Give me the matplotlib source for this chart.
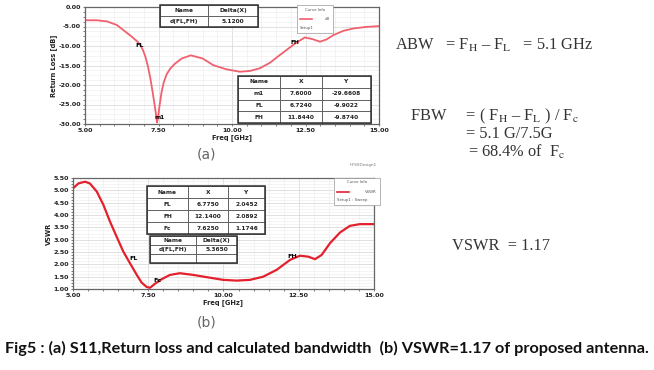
import matplotlib
matplotlib.use("Agg")
import matplotlib.pyplot as plt
from matplotlib.patches import Rectangle
from matplotlib.lines import Line2D
from matplotlib.ticker import MultipleLocator, AutoMinorLocator, FormatStrFormatter

plt.rcParams['font.family'] = ['DejaVu Sans']
plt.rcParams['mathtext.fontset'] = 'stix'

# (a) S11 return loss
s11_freq = [5.00, 5.40, 5.75, 6.08, 6.30, 6.59, 6.80, 6.90, 6.98, 7.06, 7.14,
            7.22, 7.30, 7.37, 7.42, 7.45, 7.48, 7.53, 7.60, 7.68, 7.78, 7.90,
            8.05, 8.29, 8.60, 9.00, 9.36, 9.82, 10.27, 10.61,
            10.95, 11.29, 11.63, 12.14, 12.48, 12.77, 12.99, 13.22, 13.45, 13.79,
            14.13, 14.58, 15.00]
s11_db = [-3.4, -3.4, -3.7, -4.6, -5.9, -7.6, -9.0, -10.0, -11.2, -12.9, -15.2,
          -18.2, -21.8, -25.2, -27.8, -29.66, -28.6, -25.6, -22.0, -19.3, -17.2, -15.8,
          -14.6, -13.2, -12.4, -13.2, -14.9, -16.0, -16.6, -16.4,
          -15.7, -14.3, -12.3, -9.4, -7.8, -8.3, -8.9, -8.3, -7.2, -6.1,
          -5.5, -5.1, -4.9]

# (b) VSWR
vswr_freq = [5.00, 5.18, 5.40, 5.56, 5.79, 6.01, 6.23, 6.45, 6.67, 6.89, 7.12,
             7.28, 7.45, 7.56, 7.72, 7.95, 8.22, 8.55, 9.00, 9.44, 9.99, 10.44,
             10.88, 11.32, 11.77, 12.21, 12.54, 12.82, 13.04, 13.26, 13.54, 13.87,
             14.20, 14.53, 15.00]
vswr_val = [5.08, 5.28, 5.35, 5.28, 4.95, 4.41, 3.73, 3.12, 2.52, 2.05, 1.57,
            1.26, 1.08, 1.05, 1.21, 1.40, 1.57, 1.64, 1.57, 1.48, 1.37, 1.34,
            1.37, 1.50, 1.78, 2.18, 2.35, 2.31, 2.21, 2.38, 2.86, 3.29,
            3.56, 3.63, 3.63]

# marker tables
s11_delta = [["Name", "Delta(X)"], ["d(FL,FH)", "5.1200"]]
s11_markers = [["Name", "X", "Y"],
               ["m1", "7.6000", "-29.6608"],
               ["FL", "6.7240", "-9.9022"],
               ["FH", "11.8440", "-9.8740"]]
vswr_markers = [["Name", "X", "Y"],
                ["FL", "6.7750", "2.0452"],
                ["FH", "12.1400", "2.0892"],
                ["Fc", "7.6250", "1.1746"]]
vswr_delta = [["Name", "Delta(X)"], ["d(FL,FH)", "5.3650"], ["", ""]]

x_ticks = [5.0, 7.5, 10.0, 12.5, 15.0]

W, H = 654, 370
fig = plt.figure(figsize=(W / 100, H / 100), dpi=100)


def fx(x):
    return x / W


def fy(y):
    return 1 - y / H


def add_axes(l, t, r, b):
    return fig.add_axes([l / W, 1 - b / H, (r - l) / W, (b - t) / H])


def style(ax, ylabel):
    ax.set_xlim(5, 15)
    ax.set_xticks(x_ticks)
    ax.xaxis.set_minor_locator(AutoMinorLocator(5))
    ax.yaxis.set_minor_locator(AutoMinorLocator(4))
    ax.xaxis.set_major_formatter(FormatStrFormatter('%.2f'))
    ax.yaxis.set_major_formatter(FormatStrFormatter('%.2f'))
    ax.grid(True, which='major', color='#d4d4d4', lw=0.5)
    ax.grid(True, which='minor', color='#ececec', lw=0.4)
    ax.set_axisbelow(True)
    for s in ax.spines.values():
        s.set_color('#666666')
        s.set_linewidth(0.9)
    ax.tick_params(which='both', length=1.5, width=0.5, colors='#444444',
                   labelsize=4.6, pad=1.5)
    for lab in ax.get_xticklabels() + ax.get_yticklabels():
        lab.set_fontweight('bold')
        lab.set_color('#222222')
    ax.set_xlabel("Freq [GHz]", fontsize=4.8, fontweight='bold', labelpad=1, color='#222222')
    ax.set_ylabel(ylabel, fontsize=4.8, fontweight='bold', labelpad=1, color='#222222')


def draw_table(col_edges, y0, row_h, rows):
    for r, row in enumerate(rows):
        for c, cell in enumerate(row):
            x = col_edges[c]
            w = col_edges[c + 1] - col_edges[c]
            fig.add_artist(Rectangle((fx(x), fy(y0 + (r + 1) * row_h)), w / W, row_h / H,
                                     transform=fig.transFigure, facecolor='white',
                                     edgecolor='#555555', lw=0.6))
            fig.text(fx(x + w / 2), fy(y0 + r * row_h + row_h / 2), cell,
                     ha='center', va='center', fontsize=4.2, fontweight='bold', color='#222222')
    fig.add_artist(Rectangle((fx(col_edges[0]), fy(y0 + len(rows) * row_h)),
                             (col_edges[-1] - col_edges[0]) / W, len(rows) * row_h / H,
                             transform=fig.transFigure, fill=False,
                             edgecolor='#333333', lw=1.1))


def draw_legend(l, t, r, b, color, name, setup):
    fig.add_artist(Rectangle((fx(l), fy(b)), (r - l) / W, (b - t) / H,
                             transform=fig.transFigure, facecolor='white',
                             edgecolor='#999999', lw=0.5))
    h = (b - t) / 3
    fig.text(fx((l + r) / 2), fy(t + h * 0.5), "Curve Info", ha='center', va='center',
             fontsize=2.8, color='#555555')
    fig.add_artist(Line2D([fx(l + 3), fx(l + 15)], [fy(t + h * 1.5)] * 2,
                          transform=fig.transFigure, color=color, lw=1.2))
    fig.text(fx(r - 3), fy(t + h * 1.5), name, ha='right', va='center',
             fontsize=2.8, color='#555555')
    fig.text(fx(l + 3), fy(t + h * 2.5), setup, ha='left', va='center',
             fontsize=2.8, color='#555555')


# ---- (a) S11 ----
ax1 = add_axes(85, 7, 379, 124)
ax1.plot(s11_freq, s11_db, color='#f0606e', lw=1.3)
ax1.set_ylim(-30, 0)
ax1.yaxis.set_major_locator(MultipleLocator(5))
style(ax1, "Return Loss [dB]")
ax1.text(6.85, -9.9, "FL", fontsize=4.6, fontweight='bold', ha='center', va='center')
ax1.text(7.55, -28.4, "m1", fontsize=4.2, fontweight='bold', ha='center', va='center')
ax1.text(12.14, -9.0, "FH", fontsize=4.2, fontweight='bold', ha='center', va='center')

draw_table([160, 208, 258], 5, 11, s11_delta)
draw_table([238, 280, 322, 371], 76, 11.75, s11_markers)
draw_legend(297, 5, 333, 33, '#f0606e', "dB", "Setup1")

# ---- (b) VSWR ----
ax2 = add_axes(73, 178, 374, 289)
ax2.plot(vswr_freq, vswr_val, color='#e3202c', lw=1.6)
ax2.set_ylim(1.0, 5.5)
ax2.yaxis.set_major_locator(MultipleLocator(0.5))
style(ax2, "VSWR")
ax2.text(7.0, 2.22, "FL", fontsize=4.6, fontweight='bold', ha='center', va='center')
ax2.text(7.82, 1.33, "Fc", fontsize=4.6, fontweight='bold', ha='center', va='center')
ax2.text(12.3, 2.30, "FH", fontsize=4.6, fontweight='bold', ha='center', va='center')

draw_table([147, 188, 228, 265], 186, 12, vswr_markers)
draw_table([150, 196, 237], 236, 9, vswr_delta)
draw_legend(334, 178, 380, 205, '#e3202c', "VSWR", "Setup1 : Sweep")
fig.text(fx(363), fy(165), "HFSSDesign1", ha='center', va='center', fontsize=3,
         color='#777777')

# panel labels
fig.text(fx(207), fy(154), "(a)", ha='center', va='center', fontsize=10, color='#666666')
fig.text(fx(207), fy(323), "(b)", ha='center', va='center', fontsize=10, color='#666666')

# equations on the right
eq = dict(family='Liberation Serif', fontsize=11.8, color='#333333', va='center', ha='left')
fig.text(fx(395), fy(45), r"ABW   = F$_\mathrm{H}$ – F$_\mathrm{L}$   = 5.1 GHz", **eq)
fig.text(fx(410), fy(116), r"FBW     = ( F$_\mathrm{H}$ – F$_\mathrm{L}$ ) / F$_\mathrm{c}$", **eq)
fig.text(fx(466), fy(134), r"= 5.1 G/7.5G", **eq)
fig.text(fx(468), fy(152), r"= 68.4% of  F$_\mathrm{c}$", **eq)
fig.text(fx(452), fy(246), r"VSWR  = 1.17", **eq)

# caption, scaled to the reference width
cap = fig.text(fx(5), fy(348), "Fig5 : (a) S11,Return loss and calculated bandwidth  "
               "(b) VSWR=1.17 of proposed antenna.",
               ha='left', va='center', fontsize=10, fontweight='bold',
               family='Lato', color='#111111')
r = fig.canvas.get_renderer()
wpx = cap.get_window_extent(r).width
cap.set_fontsize(10 * 645 / wpx)

fig.savefig("out.png", dpi=100)
